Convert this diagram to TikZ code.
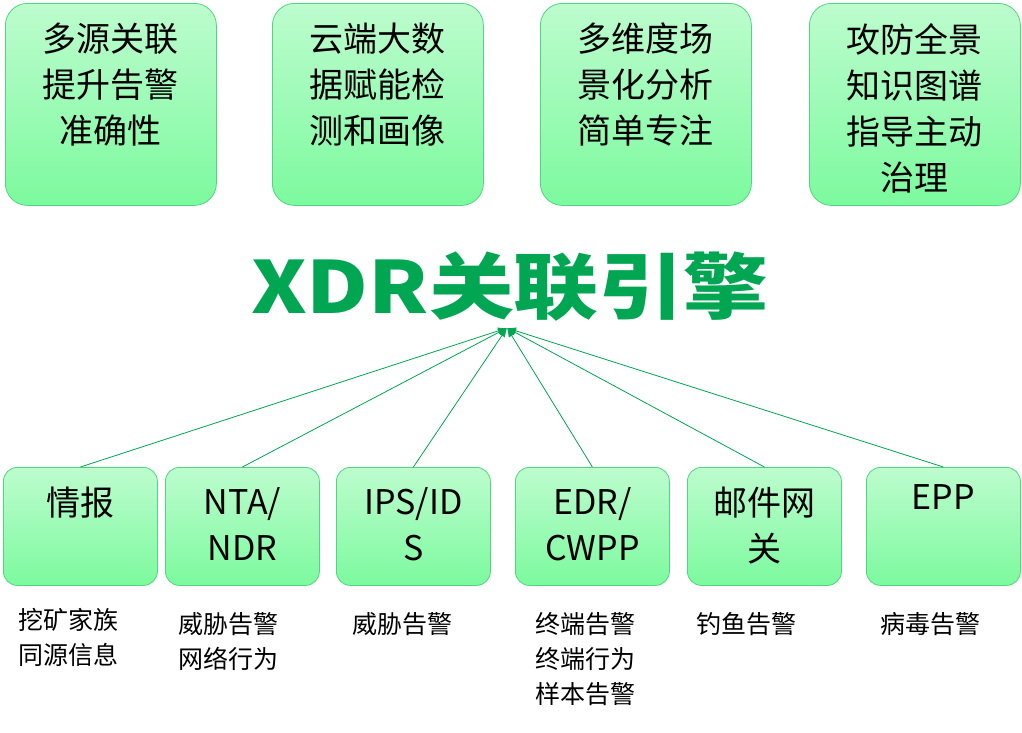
\documentclass[tikz,border=0pt]{standalone}
\usepackage{fontspec}
\setmainfont{Noto Sans CJK SC}
\usepackage{tikz}
\usetikzlibrary{arrows.meta, positioning}
\definecolor{boxFill}{HTML}{7CFA9E}
\definecolor{boxLight}{HTML}{BDFCCE}
\definecolor{boxLine}{HTML}{4FD77F}
\definecolor{titleGreen}{HTML}{00A651}
\tikzset{
    % Boxes
    topBox/.style={rectangle, rounded corners=22pt, draw=boxLine, thick,
        top color=boxLight, bottom color=boxFill, minimum width=211pt, minimum height=202pt,
        anchor=north west},
    srcBox/.style={rectangle, rounded corners=14pt, draw=boxLine, thick,
        top color=boxLight, bottom color=boxFill, minimum width=154pt, minimum height=118pt,
        anchor=north west},
    boxText/.style={align=center, font=\fontsize{34}{46}\selectfont, inner sep=0pt, anchor=north},
    tagText/.style={align=left, font=\fontsize{25}{35}\selectfont, anchor=north west, inner sep=0pt},
    feedArrow/.style={-{Latex[length=9pt,width=7pt]}, draw=titleGreen, thick}
}
\begin{document}
\begin{tikzpicture}[x=1pt, y=-1pt]
    \useasboundingbox (0,0) rectangle (1022,732);
    % Top boxes
    \node[topBox] (topA) at (5,3) {};
    \node[topBox] (topB) at (272,3) {};
    \node[topBox] (topC) at (540,3) {};
    \node[topBox] (topD) at (809,3) {};
    \node[boxText, below=20pt of topA.north] {多源关联\\提升告警\\准确性};
    \node[boxText, below=20pt of topB.north] {云端大数\\据赋能检\\测和画像};
    \node[boxText, below=20pt of topC.north] {多维度场\\景化分析\\简单专注};
    \node[boxText, below=20pt of topD.north] {攻防全景\\知识图谱\\指导主动\\治理};
    % Engine title
    \node[font=\fontsize{72}{72}\selectfont\bfseries, text=titleGreen, xscale=1.18] (engine) at (510,287) {XDR关联引擎};
    \coordinate (hub) at (507,328);
    % Source boxes
    \node[srcBox] (srcA) at (3,467) {};
    \node[srcBox] (srcB) at (165,467) {};
    \node[srcBox] (srcC) at (336,467) {};
    \node[srcBox] (srcD) at (515,467) {};
    \node[srcBox] (srcE) at (687,467) {};
    \node[srcBox] (srcF) at (866,467) {};
    \node[boxText, below=20pt of srcA.north] {情报};
    \node[boxText, below=20pt of srcB.north] {NTA/\\NDR};
    \node[boxText, below=20pt of srcC.north] {IPS/ID\\S};
    \node[boxText, below=20pt of srcD.north] {EDR/\\CWPP};
    \node[boxText, below=20pt of srcE.north] {邮件网\\关};
    \node[boxText, below=17pt of srcF.north] {EPP};
    % Tags
    \node[tagText] at (18,608) {挖矿家族\\同源信息};
    \node[tagText] at (178,612) {威胁告警\\网络行为};
    \node[tagText] at (352,612) {威胁告警};
    \node[tagText] at (535,612) {终端告警\\终端行为\\样本告警};
    \node[tagText] at (696,612) {钓鱼告警};
    \node[tagText] at (880,612) {病毒告警};
    % Arrows
    \foreach \src in {srcA,srcB,srcC,srcD,srcE,srcF}
        \draw[feedArrow] (\src.north) -- (hub);
\end{tikzpicture}
\end{document}
